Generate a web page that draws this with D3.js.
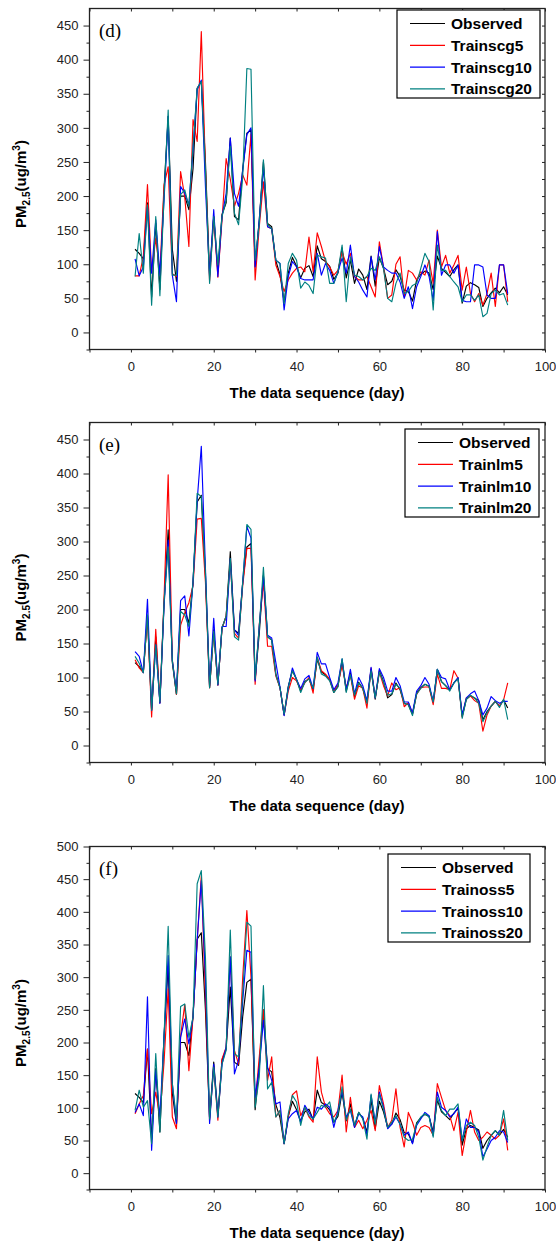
<!DOCTYPE html>
<html>
<head>
<meta charset="utf-8">
<script src="https://cdn.jsdelivr.net/npm/d3@7"></script>
<style>
  body { margin: 0; background: #fff; }
  text { font-family: Arial, "Liberation Sans", sans-serif; }
</style>
</head>
<body>
<div id="chart"></div>
<script>
const days = d3.range(1, 92);

const observed = [122,116,108,190,52,160,63,210,317,122, 75,200,200,180,240,358,368,250,85,170,
  89,173,190,285,170,165,240,292,297,97, 165,250,160,155,105,85,45,87,110,97,
  80,94,98,82,127,108,104,97,78,87, 124,80,106,72,93,84,63,112,68,110,
  94,70,75,92,82,62,60,46,77,85, 90,87,63,112,94,88,82,92,99,43,
  68,73,70,66,38,50,58,65,58,67,55];

const trainscg5 = [83,83,111,217,88,138,87,216,243,86, 82,236,199,126,312,280,441,240,75,170,
  81,165,255,225,185,204,231,216,290,77, 155,221,155,152,99,82,60,77,87,94,
  96,89,140,89,146,126,104,96,84,91, 118,100,116,82,77,77,82,67,52,133,
  96,50,55,100,111,52,91,87,77,89, 84,106,72,150,96,113,87,99,113,62,
  96,57,45,57,40,57,87,38,99,99,45];
const trainscg10 = [108,83,96,185,87,165,84,194,317,84, 45,214,204,187,268,356,370,214,82,180,
  82,170,204,285,204,185,238,290,300,96, 165,243,155,152,106,101,33,82,104,96,
  79,77,77,77,116,84,101,91,72,89, 109,87,128,82,74,62,52,111,77,126,
  96,91,87,87,74,50,67,35,67,82, 99,82,47,148,84,99,99,87,99,47,
  45,45,99,99,96,55,50,50,99,99,57];
const trainscg20 = [82,145,87,187,40,170,54,199,326,84, 84,202,209,185,273,358,368,238,72,170,
  99,170,194,273,175,158,228,387,386,106, 160,253,158,152,106,101,42,101,116,106,
  65,74,69,57,113,111,109,72,72,89, 128,45,111,84,82,77,82,94,91,111,
  94,50,45,72,87,57,60,69,72,94, 116,104,33,128,91,91,82,74,67,45,
  55,55,47,55,23,28,57,62,55,57,40];

const trainlm5 = [126,114,107,190,42,171,63,215,398,126, 75,177,195,210,235,333,334,240,85,168,
  89,172,190,272,165,158,235,290,290,90, 178,241,146,146,102,85,45,80,100,95,
  82,92,100,77,130,110,105,97,80,90, 118,85,104,68,88,84,55,114,70,108,
  88,73,92,82,85,57,63,47,75,85, 86,86,60,105,84,84,82,110,99,42,
  70,73,66,62,21,45,58,65,58,67,92];
const trainlm10 = [138,131,107,215,52,148,62,205,302,125, 80,213,220,161,240,360,440,260,88,187,
  89,175,175,275,170,162,240,322,305,95, 175,250,162,158,122,86,44,85,114,97,
  84,98,103,84,137,120,120,100,82,92, 127,82,112,76,100,88,66,115,70,113,
  100,80,80,100,88,64,64,48,80,88, 100,90,65,112,100,98,82,92,100,45,
  70,76,80,66,45,55,72,66,62,65,65];
const trainlm20 = [131,121,107,192,52,148,64,210,292,125, 76,197,192,175,240,371,366,255,85,168,
  90,173,190,275,160,155,240,325,318,98, 175,262,160,155,104,85,46,85,110,97,
  78,93,98,84,130,105,102,95,78,86, 128,78,104,74,92,84,62,110,70,108,
  93,74,76,90,84,62,60,44,76,84, 90,87,64,112,94,88,80,92,98,40,
  68,74,70,62,35,48,58,65,56,68,38];

const trainoss5 = [91,106,119,190,91,124,86,170,282,86, 68,210,258,157,240,356,455,270,81,162,
  81,175,193,331,188,167,300,402,300,106, 178,250,142,178,86,96,45,86,120,126,
  88,101,86,78,178,124,101,91,86,96, 150,63,116,70,81,68,81,96,65,134,
  106,70,81,129,70,40,93,78,58,70, 73,70,58,137,116,96,88,65,93,27,
  63,96,63,50,55,63,58,52,58,83,35];
const trainoss10 = [93,106,88,270,35,157,86,208,333,137, 76,208,236,198,239,356,448,300,76,167,
  86,167,193,331,152,173,264,341,338,116, 162,234,162,142,106,109,45,83,91,96,
  78,104,93,83,101,98,106,101,70,96, 126,86,96,70,91,86,58,119,78,124,
  101,68,75,86,75,58,63,45,73,83, 93,88,58,124,101,96,86,91,101,50,
  83,70,70,63,25,37,50,55,65,63,47];
const trainoss20 = [96,127,101,111,45,183,63,208,378,137, 83,255,259,208,239,443,463,330,83,162,
  86,167,188,372,183,178,275,384,378,101, 147,287,129,139,86,96,45,91,119,109,
  73,101,88,83,93,104,101,109,78,91, 132,81,98,73,93,83,52,121,75,121,
  98,70,78,88,75,55,50,52,75,86, 91,86,55,116,96,88,98,98,106,50,
  73,78,73,55,20,40,58,65,58,96,50];

const colors = ['#000000', '#ff0000', '#0000ff', '#008080'];
const xMajor = [0, 20, 40, 60, 80, 100];
const xMinor = [-10, 10, 30, 50, 70, 90];

const panels = [
  { tag: '(d)', names: ['Observed', 'Trainscg5', 'Trainscg10', 'Trainscg20'],
    series: [observed, trainscg5, trainscg10, trainscg20],
    top: 8.5, bottom: 349.5, yMax: 475, yLast: 450,
    legend: { x: 397, y: 10, w: 143 } },
  { tag: '(e)', names: ['Observed', 'Trainlm5', 'Trainlm10', 'Trainlm20'],
    series: [observed, trainlm5, trainlm10, trainlm20],
    top: 422.5, bottom: 762.5, yMax: 475, yLast: 450,
    legend: { x: 405, y: 429, w: 134 } },
  { tag: '(f)', names: ['Observed', 'Trainoss5', 'Trainoss10', 'Trainoss20'],
    series: [observed, trainoss5, trainoss10, trainoss20],
    top: 846.5, bottom: 1189.5, yMax: 500, yLast: 500,
    legend: { x: 388, y: 854, w: 142 } }
];

const svg = d3.select('#chart')
  .append('svg')
    .attr('width', 556)
    .attr('height', 1245);

panels.forEach(p => {
  const x = d3.scaleLinear().domain([-10, 100]).range([89.5, 545]);
  const y = d3.scaleLinear().domain([-25, p.yMax]).range([p.bottom, p.top]);
  const g = svg.append('g');

  const yMajor = d3.range(0, p.yLast + 1, 50);
  const yMinor = d3.range(-25, p.yMax, 50);

  // bottom axis, ticks outward
  g.append('g')
      .attr('transform', `translate(0,${p.bottom})`)
      .call(d3.axisBottom(x).tickValues(xMajor).tickSize(3).tickPadding(9))
      .call(a => a.select('.domain').remove());
  g.append('g')
      .attr('transform', `translate(0,${p.bottom})`)
      .call(d3.axisBottom(x).tickValues(xMinor).tickSize(3).tickFormat(''))
      .call(a => a.select('.domain').remove());

  // left axis
  g.append('g')
      .attr('transform', `translate(89.5,0)`)
      .call(d3.axisLeft(y).tickValues(yMajor).tickSize(6).tickPadding(5))
      .call(a => a.select('.domain').remove());
  g.append('g')
      .attr('transform', `translate(89.5,0)`)
      .call(d3.axisLeft(y).tickValues(yMinor).tickSize(3).tickFormat(''))
      .call(a => a.select('.domain').remove());

  // mirrored ticks on top and right, pointing in
  g.append('g')
      .attr('transform', `translate(0,${p.top})`)
      .call(d3.axisBottom(x).tickValues(xMajor.concat(xMinor)).tickSize(3).tickFormat(''))
      .call(a => a.select('.domain').remove());
  g.append('g')
      .attr('transform', `translate(545,0)`)
      .call(d3.axisLeft(y).tickValues(yMajor.concat(yMinor)).tickSize(3).tickFormat(''))
      .call(a => a.select('.domain').remove());

  g.selectAll('.tick text')
      .attr('font-size', '13px')
      .attr('fill', '#222')
      .style('font-family', 'Arial, "Liberation Sans", sans-serif');
  g.selectAll('.tick line').attr('stroke', '#222');

  // series
  const line = d3.line()
      .x((d, i) => x(days[i]))
      .y(d => y(d));

  p.series.forEach((s, k) => {
    g.append('path')
        .datum(s)
        .attr('fill', 'none')
        .attr('stroke', colors[k])
        .attr('stroke-width', 1.15)
        .attr('stroke-linejoin', 'round')
        .attr('d', line);
  });

  // frame
  g.append('rect')
      .attr('x', 89.5)
      .attr('y', p.top)
      .attr('width', 545 - 89.5)
      .attr('height', p.bottom - p.top)
      .attr('fill', 'none')
      .attr('stroke', '#222')
      .attr('stroke-width', 1.3);

  g.append('text')
      .attr('x', 99)
      .attr('y', p.top + 28)
      .style('font-family', '"Liberation Serif", "Times New Roman", serif')
      .attr('font-size', '19px')
      .text(p.tag);

  // legend
  const lg = g.append('g').attr('transform', `translate(${p.legend.x},${p.legend.y})`);
  lg.append('rect')
      .attr('width', p.legend.w)
      .attr('height', 88)
      .attr('fill', '#fff')
      .attr('stroke', '#000')
      .attr('stroke-width', 1.2);
  p.names.forEach((name, k) => {
    const cy = 13.5 + k * 21.8;
    lg.append('line')
        .attr('x1', 13).attr('x2', 48)
        .attr('y1', cy).attr('y2', cy)
        .attr('stroke', colors[k])
        .attr('stroke-width', 1.15);
    lg.append('text')
        .attr('x', 54)
        .attr('y', cy + 5.5)
        .attr('font-size', '15.5px')
        .attr('font-weight', 'bold')
        .text(name);
  });

  // axis titles
  g.append('text')
      .attr('x', 317)
      .attr('y', p.bottom + 48)
      .attr('text-anchor', 'middle')
      .attr('font-size', '15px')
      .attr('font-weight', 'bold')
      .text('The data sequence (day)');

  const yl = g.append('text')
      .attr('transform', `translate(26,${(p.top + p.bottom) / 2 + 5}) rotate(-90)`)
      .attr('text-anchor', 'middle')
      .attr('font-size', '15px')
      .attr('font-weight', 'bold');
  yl.append('tspan').text('PM');
  yl.append('tspan').attr('dy', 4).attr('font-size', '10px').text('2.5');
  yl.append('tspan').attr('dy', -4).text('(ug/m');
  yl.append('tspan').attr('dy', -6).attr('font-size', '10px').text('3');
  yl.append('tspan').attr('dy', 6).text(')');
});
</script>
</body>
</html>
